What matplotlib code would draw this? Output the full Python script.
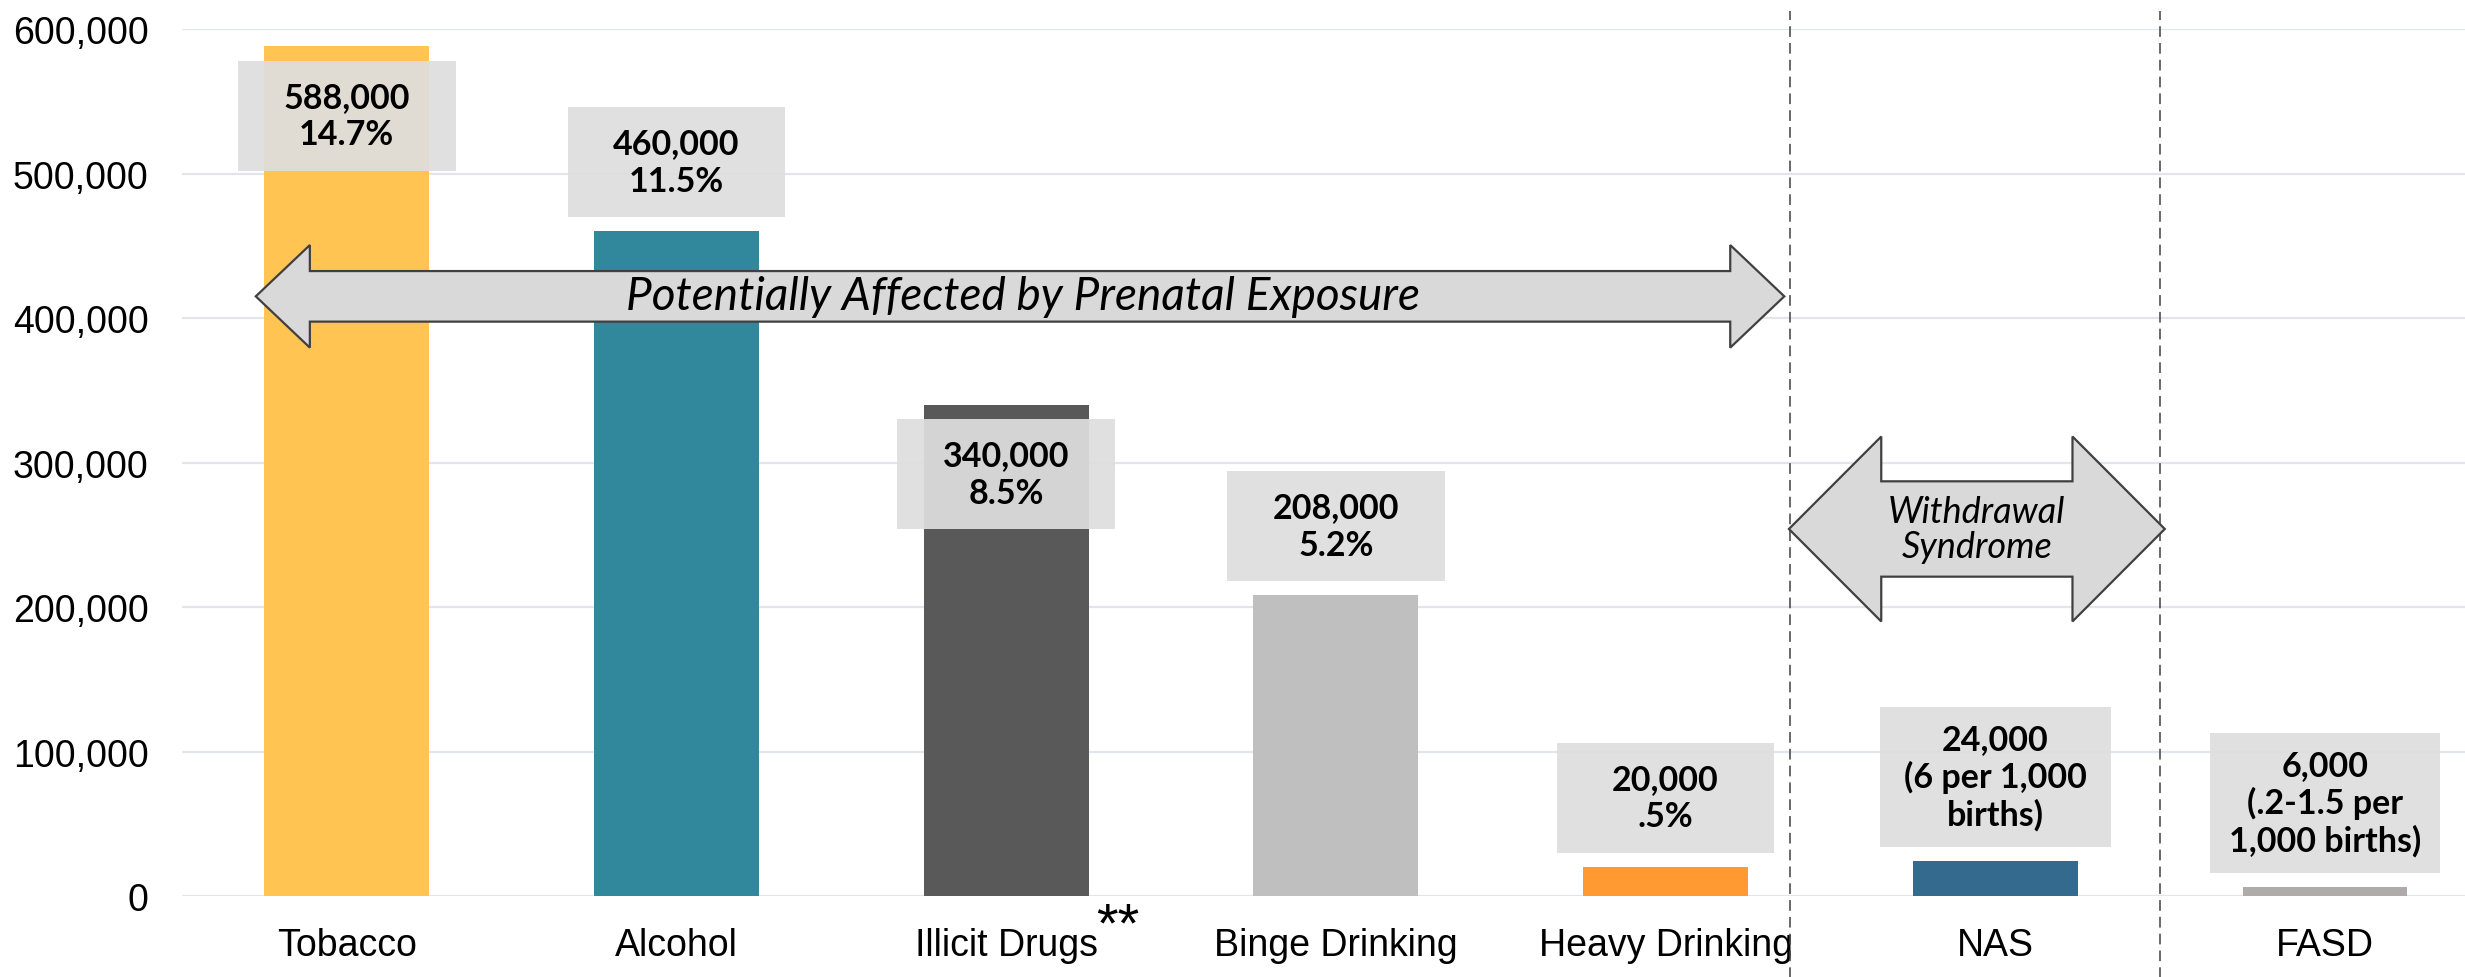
import numpy as np
import matplotlib.pyplot as plt
from matplotlib.patches import Polygon, Rectangle
from matplotlib.ticker import FuncFormatter
import matplotlib.transforms as mtransforms

# Infants exposed / affected each year
categories = ["Tobacco", "Alcohol", "Illicit Drugs", "Binge Drinking",
              "Heavy Drinking", "NAS", "FASD"]
infants = [588000, 460000, 340000, 208000, 20000, 24000, 6000]
rates = ["14.7%", "11.5%", "8.5%", "5.2%", ".5%",
         "(6 per 1,000\nbirths)", "(.2-1.5 per\n1,000 births)"]
colors = ["#FFC452", "#31879C", "#595959", "#BFBFBF",
          "#FF9A33", "#346A8E", "#AFABAB"]

fig = plt.figure(figsize=(24.65, 9.78), dpi=100)
ax = fig.add_axes([0.0738, 0.0828, 0.9363, 0.8865])

x = np.arange(len(categories))
ax.bar(x, infants, width=0.5, color=colors, zorder=2)

ax.set_xlim(-0.5, 6.5)
ax.set_ylim(0, 600000)
ax.set_yticks(np.arange(0, 600001, 100000))
ax.yaxis.set_major_formatter(FuncFormatter(lambda v, p: f"{int(v):,}"))
ax.set_xticks(x)
ax.set_xticklabels(categories)
ax.tick_params(axis="both", length=0, labelsize=27)
ax.tick_params(axis="y", pad=24)
ax.tick_params(axis="x", pad=22)
for lbl in ax.get_xticklabels() + ax.get_yticklabels():
    lbl.set_fontfamily("Liberation Sans")
ax.grid(axis="y", color="#E2E6EC", linewidth=1.6, zorder=0)
ax.set_axisbelow(True)
for s in ax.spines.values():
    s.set_visible(False)

# footnote marker after "Illicit Drugs"
ax.annotate("**", xy=(2, 0), xytext=(65, -32), textcoords="offset points",
            ha="left", va="baseline", fontsize=40, family="Liberation Sans")

# value boxes: inside the top of the bar where the arrow leaves no room above
inside = [True, False, True, False, False, False, False]
gap = 10000
for i, (v, r) in enumerate(zip(infants, rates)):
    lines = 3 if "\n" in r else 2
    h = 97000 if lines == 3 else 76000
    w = 0.70 if lines == 3 else 0.66
    bottom = v - gap - h if inside[i] else v + gap
    ax.add_patch(Rectangle((i - w / 2, bottom), w, h, facecolor="#DEDEDE",
                           edgecolor="none", alpha=0.93, zorder=3))
    ax.text(i, bottom + h / 2, f"{v:,}\n{r}", ha="center", va="center",
            fontsize=24.5, fontweight="bold", family="Lato",
            linespacing=1.2, zorder=4)


def double_arrow(x0, x1, head, yc, head_h, body_h):
    pts = [(x0, yc), (x0 + head, yc + head_h), (x0 + head, yc + body_h),
           (x1 - head, yc + body_h), (x1 - head, yc + head_h), (x1, yc),
           (x1 - head, yc - head_h), (x1 - head, yc - body_h),
           (x0 + head, yc - body_h), (x0 + head, yc - head_h)]
    ax.add_patch(Polygon(pts, closed=True, facecolor="#D9D9D9",
                         edgecolor="#404040", linewidth=1.6, zorder=5,
                         clip_on=False))


double_arrow(-0.276, 4.36, 0.164, 415000, 35500, 17500)
ax.text(2.05, 415000, "Potentially Affected by Prenatal Exposure",
        ha="center", va="center", fontsize=33, style="italic",
        family="Lato", zorder=6)

double_arrow(4.374, 5.514, 0.28, 254000, 64000, 33000)
ax.text(4.944, 254000, "Withdrawal\nSyndrome", ha="center", va="center",
        fontsize=26, style="italic", family="Lato", linespacing=1.1,
        zorder=6)

# dashed separators running the full height of the figure
trans = mtransforms.blended_transform_factory(ax.transData, ax.transAxes)
for xs in [4.377, 5.5]:
    ax.plot([xs, xs], [-0.1, 1.021], transform=trans, color="#404040",
            linewidth=1.1, linestyle=(0, (7, 4)), clip_on=False, zorder=1)

fig.savefig("out.png", dpi=100)
